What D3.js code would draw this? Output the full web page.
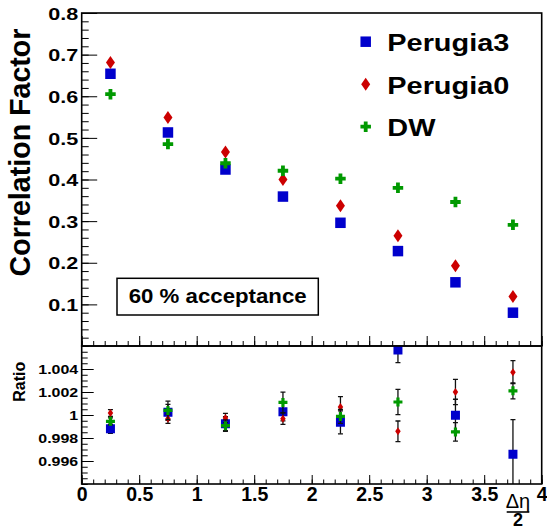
<!DOCTYPE html>
<html><head><meta charset="utf-8">
<script src="https://cdn.jsdelivr.net/npm/d3@7"></script>
<style>
body{margin:0;background:#fff}
svg{display:block}
text{font-family:"Liberation Sans",Arial,Helvetica,sans-serif;}
</style>
</head><body>
<svg id="c" width="547" height="530"></svg>
<script>
// ---------------- data ----------------
const xVals = [0.25, 0.75, 1.25, 1.75, 2.25, 2.75, 3.25, 3.75];
const seriesNames = ["Perugia3", "Perugia0", "DW"];
const perugia3 = [0.654, 0.513, 0.424, 0.359, 0.296, 0.228, 0.153, 0.080];
const perugia0 = [0.681, 0.549, 0.466, 0.400, 0.337, 0.265, 0.193, 0.119];
const dw       = [0.605, 0.485, 0.439, 0.421, 0.402, 0.380, 0.346, 0.291];
const ratioP3  = [0.99881, 1.00023, 0.99925, 1.00029, 0.99936, 1.00565, 0.99997, 0.99659];
const ratioP0  = [1.00017, 0.99968, 0.99974, 0.99968, 1.00069, 0.99858, 1.00200, 1.00372];
const ratioDW  = [0.99945, 1.00040, 0.99907, 1.00109, 0.99988, 1.00113, 0.99853, 1.00210];
const errP3    = [0.0004, 0.0007, 0.0006, 0.0008, 0.0010, 0.0011, 0.0014, 0.0030];
const errP0    = [0.0003, 0.0004, 0.0004, 0.0005, 0.0009, 0.0009, 0.0011, 0.0010];
const errDW    = [0.0003, 0.0008, 0.0005, 0.0009, 0.0006, 0.0011, 0.0008, 0.0007];
const yTopTicks  = [0.1, 0.2, 0.3, 0.4, 0.5, 0.6, 0.7, 0.8];
const yTopLabels = ["0.1", "0.2", "0.3", "0.4", "0.5", "0.6", "0.7", "0.8"];
const xTicks      = [0, 0.5, 1, 1.5, 2, 2.5, 3, 3.5, 4];
const xTickLabels = ["0", "0.5", "1", "1.5", "2", "2.5", "3", "3.5", "4"];
const yRatioTicks  = [0.996, 0.998, 1, 1.002, 1.004];
const yRatioLabels = ["0.996", "0.998", "1", "1.002", "1.004"];
const yTitle = "Correlation Factor";
const yRatioTitle = "Ratio";
const boxLabel = "60 % acceptance";

// ---------------- layout ----------------
const L = 81.7, R = 541.7, T1 = 13, B1 = 346, T2 = 346, B2 = 484;
const colors = {"Perugia3": "#0000cc", "Perugia0": "#cc0000", "DW": "#009900"};
const svg = d3.select("#c");
svg.append("rect").attr("width", 547).attr("height", 530).attr("fill", "#fff");

const x = d3.scaleLinear().domain([0, 4]).range([L, R]);
const yTop = d3.scaleLinear().domain([0, 0.8]).range([B1, T1]);
const yRat = d3.scaleLinear().domain([0.994, 1.006]).range([B2, T2]);

function stretch(sel, k) {
  sel.each(function () {
    const l = this.getComputedTextLength();
    d3.select(this).attr("textLength", l * k).attr("lengthAdjust", "spacingAndGlyphs");
  });
}
function styleAxis(g) {
  g.select(".domain").remove();
  g.selectAll(".tick line").attr("stroke", "#000").attr("stroke-width", 1);
}

// marker paths
function squarePath(s) { const h = s / 2; return `M${-h},${-h}H${h}V${h}H${-h}Z`; }
function diamondPath(w, h) { return `M0,${-h/2}L${w/2},0L0,${h/2}L${-w/2},0Z`; }
function crossPath(s, t) {
  const a = s / 2, b = t / 2;
  return `M${-b},${-a}H${b}V${-b}H${a}V${b}H${b}V${a}H${-b}V${b}H${-a}V${-b}H${-b}Z`;
}
const markerTop = {
  "Perugia3": squarePath(10.5),
  "Perugia0": diamondPath(9, 13),
  "DW": crossPath(10.5, 3.8)
};
const markerBot = {
  "Perugia3": squarePath(9),
  "Perugia0": diamondPath(5.5, 8),
  "DW": crossPath(9, 3.2)
};

// ---------------- top panel ----------------
const topG = svg.append("g");
topG.append("g").attr("transform", `translate(${L},0)`)
  .call(d3.axisLeft(yTop).tickValues(d3.range(0, 0.8001, 0.02)).tickSize(-7).tickFormat(""))
  .call(styleAxis);
const yAx = topG.append("g").attr("transform", `translate(${L},0)`)
  .call(d3.axisLeft(yTop).tickValues(yTopTicks).tickSize(-15.5).tickPadding(3.5)
    .tickFormat((d, i) => yTopLabels[i]))
  .call(styleAxis);
yAx.selectAll("text").attr("font-size", 17).attr("font-weight", "bold").attr("fill", "#000")
  .attr("dy", "0.36em").call(stretch, 1.27);
topG.append("g").attr("transform", `translate(0,${B1})`)
  .call(d3.axisBottom(x).tickValues(d3.range(0, 4.001, 0.1)).tickSize(-5).tickFormat(""))
  .call(styleAxis);
topG.append("g").attr("transform", `translate(0,${B1})`)
  .call(d3.axisBottom(x).tickValues(xTicks).tickSize(-10).tickFormat(""))
  .call(styleAxis);

const topData = [
  {name: "Perugia3", vals: perugia3},
  {name: "Perugia0", vals: perugia0},
  {name: "DW", vals: dw}
];
topData.forEach(s => {
  topG.append("g").selectAll("path").data(s.vals).join("path")
    .attr("d", markerTop[s.name])
    .attr("transform", (d, i) => `translate(${x(xVals[i])},${yTop(d)})`)
    .attr("fill", colors[s.name]);
});

// legend
const legY = [41.7, 84.2, 126.7];
seriesNames.forEach((n, i) => {
  svg.append("path").attr("d", markerTop[n])
    .attr("transform", `translate(365.7,${legY[i]})`).attr("fill", colors[n]);
  svg.append("text").attr("x", 387.3).attr("y", legY[i] + 9.3)
    .attr("font-size", 24.7).attr("font-weight", "bold").attr("fill", "#000")
    .text(n).call(stretch, 1.17);
});

// acceptance box
svg.append("rect").attr("x", 117).attr("y", 278.3).attr("width", 201.3).attr("height", 36.7)
  .attr("fill", "#fff").attr("stroke", "#000").attr("stroke-width", 1.5);
svg.append("text").attr("x", 217.7).attr("y", 303.3).attr("text-anchor", "middle")
  .attr("font-size", 19.5).attr("font-weight", "bold").text(boxLabel).call(stretch, 1.14);

// y title
svg.append("text").attr("transform", "translate(30,152.5) rotate(-90)")
  .attr("text-anchor", "middle").attr("font-size", 28.6).attr("font-weight", "bold")
  .text(yTitle);

topG.append("rect").attr("x", L).attr("y", T1).attr("width", R - L).attr("height", B1 - T1)
  .attr("fill", "none").attr("stroke", "#000").attr("stroke-width", 1.6);

// ---------------- ratio panel ----------------
const botG = svg.append("g");
svg.append("clipPath").attr("id", "clipB").append("rect")
  .attr("x", L).attr("y", T2).attr("width", R - L).attr("height", B2 - T2);

botG.append("g").attr("transform", `translate(${L},0)`)
  .call(d3.axisLeft(yRat).tickValues(d3.range(0, 25).map(i => 0.994 + i * 0.0005)).tickSize(-6).tickFormat(""))
  .call(styleAxis);
const yAx2 = botG.append("g").attr("transform", `translate(${L},0)`)
  .call(d3.axisLeft(yRat).tickValues(yRatioTicks).tickSize(-12).tickPadding(3.5)
    .tickFormat((d, i) => yRatioLabels[i]))
  .call(styleAxis);
yAx2.selectAll("text").attr("font-size", 12).attr("font-weight", "bold").attr("fill", "#000")
  .attr("dy", "0.36em").call(stretch, 1.33);

botG.append("g").attr("transform", `translate(0,${B2})`)
  .call(d3.axisBottom(x).tickValues(d3.range(0, 4.001, 0.1)).tickSize(-4.5).tickFormat(""))
  .call(styleAxis);
const xAx = botG.append("g").attr("transform", `translate(0,${B2})`)
  .call(d3.axisBottom(x).tickValues(xTicks).tickSize(-9).tickPadding(3.2)
    .tickFormat((d, i) => xTickLabels[i]))
  .call(styleAxis);
xAx.selectAll("text").attr("font-size", 19.5).attr("font-weight", "bold").attr("fill", "#000");

const botData = [
  {name: "Perugia3", vals: ratioP3, err: errP3},
  {name: "Perugia0", vals: ratioP0, err: errP0},
  {name: "DW", vals: ratioDW, err: errDW}
];
const plotB = botG.append("g").attr("clip-path", "url(#clipB)");
botData.forEach(s => {
  const g = plotB.append("g");
  const eb = g.selectAll("g.eb").data(s.vals).join("g").attr("class", "eb");
  eb.append("line")
    .attr("x1", (d, i) => x(xVals[i])).attr("x2", (d, i) => x(xVals[i]))
    .attr("y1", (d, i) => yRat(d - s.err[i])).attr("y2", (d, i) => yRat(d + s.err[i]))
    .attr("stroke", "#111").attr("stroke-width", 1.3);
  [-1, 1].forEach(sg => {
    eb.append("line")
      .attr("x1", (d, i) => x(xVals[i]) - 2.5).attr("x2", (d, i) => x(xVals[i]) + 2.5)
      .attr("y1", (d, i) => yRat(d + sg * s.err[i])).attr("y2", (d, i) => yRat(d + sg * s.err[i]))
      .attr("stroke", "#111").attr("stroke-width", 1.3);
  });
  g.selectAll("path").data(s.vals).join("path")
    .attr("d", markerBot[s.name])
    .attr("transform", (d, i) => `translate(${x(xVals[i])},${yRat(d)})`)
    .attr("fill", colors[s.name]);
});

botG.append("rect").attr("x", L).attr("y", T2).attr("width", R - L).attr("height", B2 - T2)
  .attr("fill", "none").attr("stroke", "#000").attr("stroke-width", 1.6);

svg.append("text").attr("transform", "translate(25,381.7) rotate(-90)")
  .attr("text-anchor", "middle").attr("font-size", 16).attr("font-weight", "bold")
  .text(yRatioTitle);

// x axis title  Δη / 2
svg.append("text").attr("x", 518).attr("y", 507.5).attr("text-anchor", "middle")
  .attr("font-size", 20).text("Δη");
svg.append("line").attr("x1", 506.7).attr("x2", 529.3).attr("y1", 512).attr("y2", 512)
  .attr("stroke", "#000").attr("stroke-width", 1.6);
svg.append("text").attr("x", 518).attr("y", 526).attr("text-anchor", "middle")
  .attr("font-size", 18).attr("font-weight", "bold").text("2");
</script>
</body></html>
